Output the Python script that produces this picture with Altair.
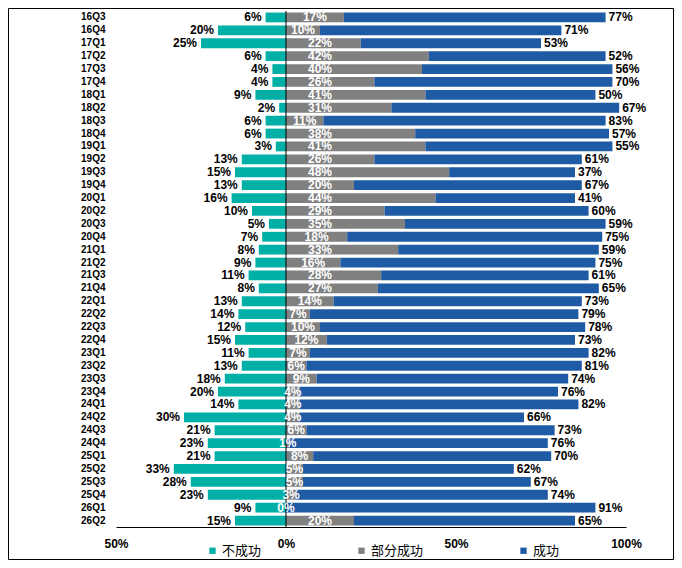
import altair as alt
import pandas as pd

quarters = ["16Q3", "16Q4",
            "17Q1", "17Q2", "17Q3", "17Q4",
            "18Q1", "18Q2", "18Q3", "18Q4",
            "19Q1", "19Q2", "19Q3", "19Q4",
            "20Q1", "20Q2", "20Q3", "20Q4",
            "21Q1", "21Q2", "21Q3", "21Q4",
            "22Q1", "22Q2", "22Q3", "22Q4",
            "23Q1", "23Q2", "23Q3", "23Q4",
            "24Q1", "24Q2", "24Q3", "24Q4",
            "25Q1", "25Q2", "25Q3", "25Q4",
            "26Q1", "26Q2"]
fail = [6, 20, 25, 6, 4, 4, 9, 2, 6, 6,
        3, 13, 15, 13, 16, 10, 5, 7, 8, 9,
        11, 8, 13, 14, 12, 15, 11, 13, 18, 20,
        14, 30, 21, 23, 21, 33, 28, 23, 9, 15]
partial = [17, 10, 22, 42, 40, 26, 41, 31, 11, 38,
           41, 26, 48, 20, 44, 29, 35, 18, 33, 16,
           28, 27, 14, 7, 10, 12, 7, 6, 9, 4,
           4, 4, 6, 1, 8, 5, 5, 3, 0, 20]
success = [77, 71, 53, 52, 56, 70, 50, 67, 83, 57,
           55, 61, 37, 67, 41, 60, 59, 75, 59, 75,
           61, 65, 73, 79, 78, 73, 82, 81, 74, 76,
           82, 66, 73, 76, 70, 62, 67, 74, 91, 65]
series = ["不成功", "部分成功", "成功"]
colors = ["#00AFA6", "#808080", "#1F5AA5"]
x_ticks = [-50, 0, 50, 100]

rows = []
for q, f, p, s in zip(quarters, fail, partial, success):
    rows.append({"q": q, "series": series[0], "start": -f, "end": 0})
    rows.append({"q": q, "series": series[1], "start": 0, "end": p})
    rows.append({"q": q, "series": series[2], "start": p, "end": p + s})
long_df = pd.DataFrame(rows)
wide = pd.DataFrame({"q": quarters, "fail": fail, "partial": partial, "success": success})

NUM_FONT = "Liberation Sans"
xscale = alt.Scale(domain=[-50, 100], nice=False, zero=False)
yscale = alt.Scale(paddingInner=0.24, paddingOuter=0.12)
xaxis = alt.Axis(values=x_ticks, labelExpr="abs(datum.value) + '%'", title=None,
                 grid=False, ticks=True, tickSize=0, labelPadding=11, labelFlush=False,
                 domainColor="black", domainWidth=1, labelFont=NUM_FONT,
                 labelFontSize=12, labelFontWeight="bold", labelColor="black")
yaxis = alt.Axis(title=None, domain=False, ticks=True, tickSize=0, labelPadding=11,
                 labelFont=NUM_FONT, labelFontSize=10, labelFontWeight="bold",
                 labelColor="black")


def X(field):
    return alt.X(field, scale=xscale, axis=xaxis)


def Y():
    return alt.Y("q:N", sort=quarters, scale=yscale, axis=yaxis)


bars = alt.Chart(long_df).mark_bar(strokeWidth=0).encode(
    y=Y(),
    x=X("start:Q"),
    x2="end:Q",
    color=alt.Color("series:N", scale=alt.Scale(domain=series, range=colors),
                    legend=alt.Legend(orient="none", legendX=90, legendY=533,
                                      direction="horizontal", title=None,
                                      symbolType="square", symbolSize=40,
                                      symbolStrokeWidth=0, labelFont="Noto Sans CJK SC",
                                      labelFontSize=13, labelColor="black",
                                      columnPadding=93, labelOffset=3, padding=0)),
)

zero = alt.Chart(pd.DataFrame({"z": [0]})).mark_rule(color="black", strokeWidth=1).encode(
    x=X("z:Q")
)

txt = dict(font=NUM_FONT, fontWeight="bold", fontSize=12, baseline="middle")

t_fail = alt.Chart(wide).transform_calculate(
    xp="-datum.fail", lab="datum.fail + '%'"
).mark_text(align="right", dx=-4, color="black", **txt).encode(
    x=X("xp:Q"), y=Y(), text="lab:N")

t_part = alt.Chart(wide).transform_calculate(
    xp="min(datum.partial / 2, 10)", lab="datum.partial + '%'"
).mark_text(align="center", color="white", **txt).encode(
    x=X("xp:Q"), y=Y(), text="lab:N")

t_succ = alt.Chart(wide).transform_calculate(
    xp="datum.partial + datum.success", lab="datum.success + '%'"
).mark_text(align="left", dx=3, color="black", **txt).encode(
    x=X("xp:Q"), y=Y(), text="lab:N")

frame = alt.Chart(pd.DataFrame({"z": [0]})).mark_rect(
    fillOpacity=0, stroke="black", strokeWidth=1
).encode(x=alt.value(-107.5), x2=alt.value(557.5), y=alt.value(-2.5), y2=alt.value(548.5))

chart = alt.layer(bars, zero, t_fail, t_part, t_succ, frame).properties(
    width=510, height=516,
    padding={"left": 108, "top": 3, "right": 48, "bottom": 33},
    autosize=alt.AutoSizeParams(type="none"),
    background="white",
).configure_view(stroke=None)

chart.save("out.html", embed_options={"renderer": "svg", "actions": False})
